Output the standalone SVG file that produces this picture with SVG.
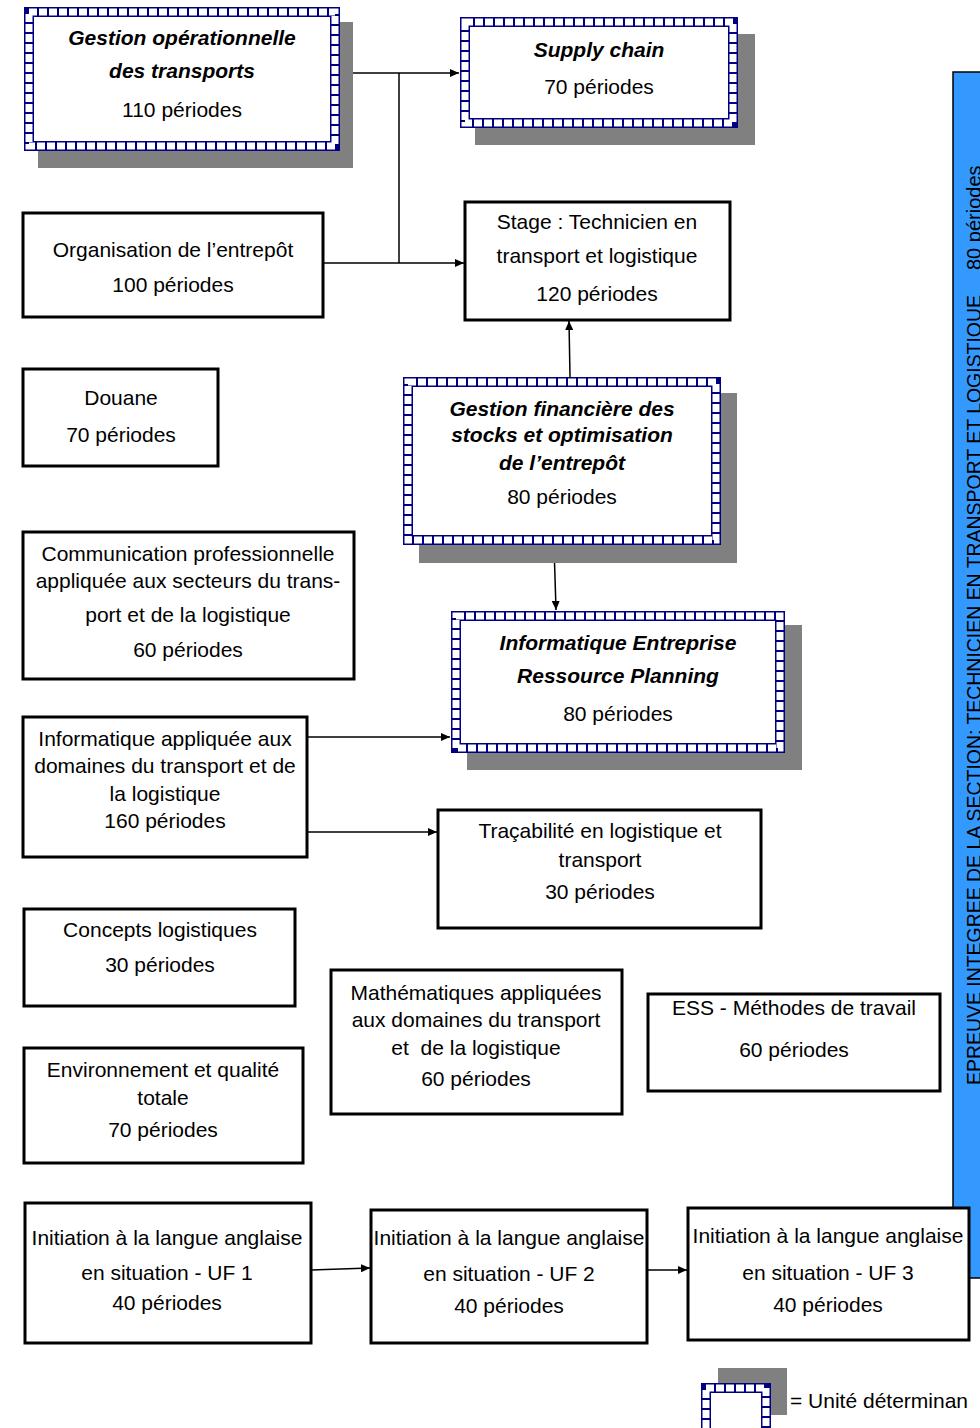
<svg xmlns="http://www.w3.org/2000/svg" width="980" height="1428" viewBox="0 0 980 1428">
<style>
text{font-family:"Liberation Sans",Arial,sans-serif;font-size:21px;fill:#000;text-anchor:middle}
.bi{font-weight:bold;font-style:italic}
.box{fill:#fff;stroke:#000;stroke-width:3}
.shadow{fill:#808080}
.bandA{fill:#fff;stroke:#000080;stroke-width:10}
.bandB{fill:none;stroke:#fff;stroke-width:7;stroke-dasharray:8 2}
.conn{fill:none;stroke:#000;stroke-width:1.5}
.bar{fill:#3399ff;stroke:#000;stroke-width:1.5}
.bartext{font-size:20px;text-anchor:start}
</style>
<defs>
<marker id="arr" markerUnits="userSpaceOnUse" markerWidth="10" markerHeight="8" refX="9" refY="4" orient="auto">
<path d="M0,0 L9,4 L0,8 Z" fill="#000"/>
</marker>
</defs>

<g id="bar">
<rect class="bar" x="953" y="72" width="40" height="1206"/>
<text class="bartext" transform="translate(981,1085) rotate(-90)" textLength="790" lengthAdjust="spacingAndGlyphs">EPREUVE INTEGREE DE LA SECTION: TECHNICIEN EN TRANSPORT ET LOGISTIQUE</text>
<text class="bartext" transform="translate(981,270) rotate(-90)">80 périodes</text>
</g>

<g id="connectors">
<path class="conn" d="M340,73 H459" marker-end="url(#arr)"/>
<path class="conn" d="M399,73 V263"/>
<path class="conn" d="M323,263 H464" marker-end="url(#arr)"/>
<path class="conn" d="M570,377 L569,321" marker-end="url(#arr)"/>
<path class="conn" d="M554,545 L556,610" marker-end="url(#arr)"/>
<path class="conn" d="M305,737 H450" marker-end="url(#arr)"/>
<path class="conn" d="M307,832 H437" marker-end="url(#arr)"/>
<path class="conn" d="M311,1270 L370,1268" marker-end="url(#arr)"/>
<path class="conn" d="M647,1270 H687" marker-end="url(#arr)"/>
</g>

<g id="gestion-operationnelle">
<rect class="shadow" x="38" y="22" width="315" height="146"/>
<rect class="bandA" x="29" y="12" width="306" height="134"/>
<rect class="bandB" x="29" y="12" width="306" height="134"/>
<text class="bi" x="182" y="45">Gestion opérationnelle</text>
<text class="bi" x="182" y="78">des transports</text>
<text x="182" y="117">110 périodes</text>
</g>

<g id="supply-chain">
<rect class="shadow" x="475" y="34" width="280" height="111"/>
<rect class="bandA" x="465" y="22" width="268" height="101"/>
<rect class="bandB" x="465" y="22" width="268" height="101"/>
<text class="bi" x="599" y="57">Supply chain</text>
<text x="599" y="94">70 périodes</text>
</g>

<g id="organisation">
<rect class="box" x="23" y="213" width="300" height="104"/>
<text x="173" y="257">Organisation de l’entrepôt</text>
<text x="173" y="292">100 périodes</text>
</g>

<g id="stage">
<rect class="box" x="465" y="202" width="265" height="118"/>
<text x="597" y="229">Stage : Technicien en</text>
<text x="597" y="263">transport et logistique</text>
<text x="597" y="301">120 périodes</text>
</g>

<g id="douane">
<rect class="box" x="23" y="369" width="195" height="97"/>
<text x="121" y="405">Douane</text>
<text x="121" y="442">70 périodes</text>
</g>

<g id="gestion-financiere">
<rect class="shadow" x="419" y="393" width="318" height="170"/>
<rect class="bandA" x="408" y="382" width="308" height="158"/>
<rect class="bandB" x="408" y="382" width="308" height="158"/>
<text class="bi" x="562" y="416">Gestion financière des</text>
<text class="bi" x="562" y="442">stocks et optimisation</text>
<text class="bi" x="562" y="470">de l’entrepôt</text>
<text x="562" y="504">80 périodes</text>
</g>

<g id="communication">
<rect class="box" x="23" y="532" width="331" height="147"/>
<text x="188" y="561">Communication professionnelle</text>
<text x="188" y="588">appliquée aux secteurs du trans-</text>
<text x="188" y="622">port et de la logistique</text>
<text x="188" y="657">60 périodes</text>
</g>

<g id="informatique-erp">
<rect class="shadow" x="467" y="625" width="335" height="145"/>
<rect class="bandA" x="456" y="616" width="324" height="132"/>
<rect class="bandB" x="456" y="616" width="324" height="132"/>
<text class="bi" x="618" y="650">Informatique Entreprise</text>
<text class="bi" x="618" y="683">Ressource Planning</text>
<text x="618" y="721">80 périodes</text>
</g>

<g id="informatique-appliquee">
<rect class="box" x="23" y="717" width="284" height="140"/>
<text x="165" y="746">Informatique appliquée aux</text>
<text x="165" y="773">domaines du transport et de</text>
<text x="165" y="801">la logistique</text>
<text x="165" y="828">160 périodes</text>
</g>

<g id="tracabilite">
<rect class="box" x="438" y="810" width="323" height="118"/>
<text x="600" y="838">Traçabilité en logistique et</text>
<text x="600" y="867">transport</text>
<text x="600" y="899">30 périodes</text>
</g>

<g id="concepts">
<rect class="box" x="24" y="909" width="271" height="97"/>
<text x="160" y="937">Concepts logistiques</text>
<text x="160" y="972">30 périodes</text>
</g>

<g id="mathematiques">
<rect class="box" x="331" y="970" width="291" height="144"/>
<text x="476" y="1000">Mathématiques appliquées</text>
<text x="476" y="1027">aux domaines du transport</text>
<text x="476" y="1055" xml:space="preserve">et  de la logistique</text>
<text x="476" y="1086">60 périodes</text>
</g>

<g id="ess">
<rect class="box" x="648" y="994" width="292" height="97"/>
<text x="794" y="1015">ESS - Méthodes de travail</text>
<text x="794" y="1057">60 périodes</text>
</g>

<g id="environnement">
<rect class="box" x="24" y="1048" width="279" height="115"/>
<text x="163" y="1077">Environnement et qualité</text>
<text x="163" y="1105">totale</text>
<text x="163" y="1137">70 périodes</text>
</g>

<g id="anglais-uf1">
<rect class="box" x="25" y="1203" width="286" height="140"/>
<text x="167" y="1245">Initiation à la langue anglaise</text>
<text x="167" y="1280">en situation - UF 1</text>
<text x="167" y="1310">40 périodes</text>
</g>

<g id="anglais-uf2">
<rect class="box" x="371" y="1210" width="276" height="133"/>
<text x="509" y="1245">Initiation à la langue anglaise</text>
<text x="509" y="1281">en situation - UF 2</text>
<text x="509" y="1313">40 périodes</text>
</g>

<g id="anglais-uf3">
<rect class="box" x="688" y="1208" width="281" height="132"/>
<text x="828" y="1243">Initiation à la langue anglaise</text>
<text x="828" y="1280">en situation - UF 3</text>
<text x="828" y="1312">40 périodes</text>
</g>

<g id="legend">
<rect class="shadow" x="718" y="1368" width="69" height="47"/>
<rect class="bandA" x="706" y="1388" width="60" height="60"/>
<rect class="bandB" x="706" y="1388" width="60" height="60"/>
<text x="790" y="1408" style="text-anchor:start">= Unité déterminan</text>
</g>
</svg>
